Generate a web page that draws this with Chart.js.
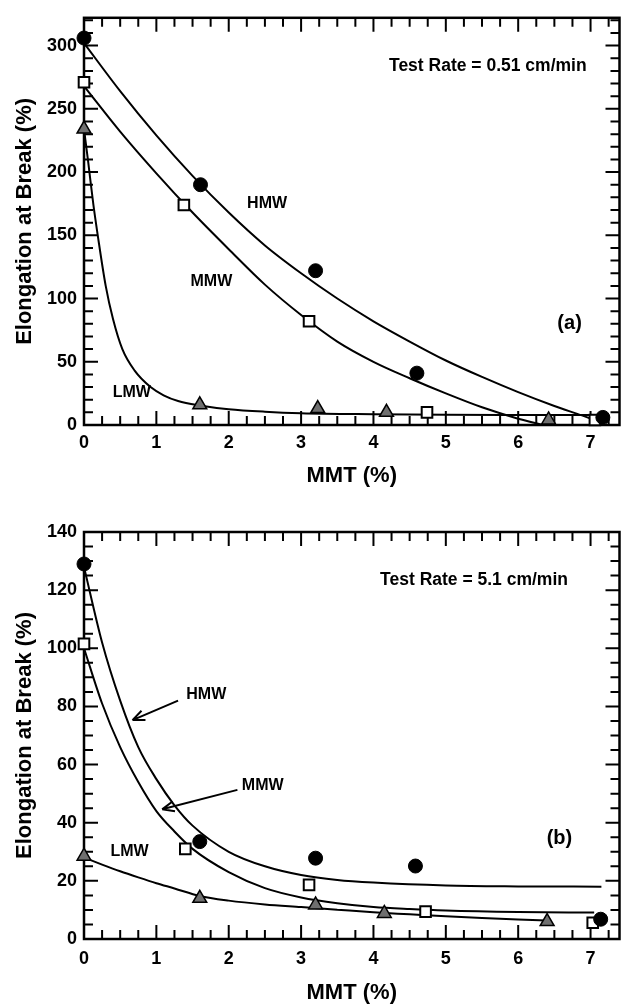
<!DOCTYPE html>
<html>
<head>
<meta charset="utf-8">
<title>Elongation at Break vs MMT</title>
<script src="https://cdn.jsdelivr.net/npm/chart.js@4.4.0/dist/chart.umd.min.js"></script>
<style>
  html, body { margin: 0; padding: 0; background: #fff; overflow: hidden; }
  canvas { display: block; }
</style>
</head>
<body>
<canvas id="chartA" width="629" height="500"></canvas>
<canvas id="chartB" width="629" height="505"></canvas>
<script>
// ---- (a) Test Rate = 0.51 cm/min : measured points ----
const mmtA_hmw = [0, 1.61, 3.2, 4.6, 7.17];
const elongA_hmw = [306, 190, 122, 41, 6];
const mmtA_mmw = [0, 1.38, 3.11, 4.74, 7.06];
const elongA_mmw = [271, 174, 82, 10, 4];
const mmtA_lmw = [0, 1.6, 3.23, 4.18, 6.42];
const elongA_lmw = [234, 16, 13, 10, 4];

// ---- (a) fitted curves ----
const fitA_hmw_x = [0, 0.5, 1, 1.5, 2, 2.5, 3, 3.5, 4, 4.5, 5, 5.5, 6, 6.5, 7, 7.12];
const fitA_hmw_y = [302, 264, 229, 197, 168, 142, 120, 100, 82, 66, 51, 38, 26, 15, 5, 2];
const fitA_mmw_x = [0, 0.5, 1, 1.5, 2, 2.5, 3, 3.5, 4, 4.5, 5, 5.5, 6, 6.35];
const fitA_mmw_y = [268, 232, 199, 168, 139, 111, 87, 66, 50, 37, 25, 14, 5, 0];
const fitA_lmw_x = [0, 0.06, 0.13, 0.19, 0.3, 0.4, 0.53, 0.7, 0.92, 1.1, 1.3, 1.6, 2, 2.5, 3, 4, 5, 6, 7];
const fitA_lmw_y = [234, 207, 174, 150, 110, 84, 60, 43, 30, 23.5, 19, 15.5, 12.5, 10.5, 9.3, 8.5, 8.1, 8, 8];

// ---- (b) Test Rate = 5.1 cm/min : measured points ----
const mmtB_hmw = [0, 1.6, 3.2, 4.58, 7.14];
const elongB_hmw = [129, 33.5, 27.8, 25.1, 6.8];
const mmtB_mmw = [0, 1.4, 3.11, 4.72, 7.03];
const elongB_mmw = [101.5, 31, 18.6, 9.4, 5.6];
const mmtB_lmw = [0, 1.6, 3.2, 4.15, 6.4];
const elongB_lmw = [28.5, 14, 11.7, 8.8, 6];

// ---- (b) fitted curves ----
const fitB_hmw_x = [0, 0.25, 0.5, 0.75, 1, 1.25, 1.5, 2, 2.5, 3, 3.5, 4, 5, 6, 7.15];
const fitB_hmw_y = [128, 102, 82, 66, 55, 46, 39, 30, 25, 22, 20.3, 19.4, 18.4, 18.1, 18];
const fitB_mmw_x = [0, 0.25, 0.5, 0.75, 1, 1.25, 1.5, 2, 2.5, 3, 3.5, 4, 4.5, 5, 6, 7.05];
const fitB_mmw_y = [100, 81, 66, 54, 44, 37, 31, 23, 17.5, 14.3, 12.3, 11, 10.3, 9.8, 9.3, 9.1];
const fitB_lmw_x = [0, 0.25, 0.5, 0.75, 1, 1.25, 1.6, 2, 2.5, 3, 3.5, 4, 4.5, 5, 5.5, 6, 6.45];
const fitB_lmw_y = [28, 25.6, 23.3, 21.2, 19.2, 17.4, 14.8, 13.2, 11.9, 11, 10.1, 9.2, 8.5, 7.8, 7.2, 6.7, 6.3];

const FONT = '"Liberation Sans", Arial, Helvetica, sans-serif';
const tickFont = { family: FONT, size: 18, weight: 'bold' };
const titleFont = { family: FONT, size: 22, weight: 'bold', lineHeight: 1 };

function toPoints(xs, ys) {
    return xs.map((x, i) => ({ x: x, y: ys[i] }));
}

// Inward tick marks on all four sides plus the box frame
const frameTicks = {
    id: 'frameTicks',
    beforeDatasetsDraw(chart, args, opts) {
        const { ctx, chartArea: a, scales: { x, y } } = chart;
        ctx.save();
        ctx.strokeStyle = '#000';
        ctx.lineWidth = 2;
        ctx.beginPath();
        const nx = Math.floor(x.max / opts.xMinor + 1e-6);
        for (let i = 0; i <= nx; i++) {
            const v = i * opts.xMinor;
            const px = x.getPixelForValue(v);
            const len = (i % opts.xEvery === 0) ? 14 : 9;
            ctx.moveTo(px, a.bottom); ctx.lineTo(px, a.bottom - len);
            ctx.moveTo(px, a.top); ctx.lineTo(px, a.top + len);
        }
        const ny = Math.floor(y.max / opts.yMinor + 1e-6);
        for (let i = 0; i <= ny; i++) {
            const v = i * opts.yMinor;
            const py = y.getPixelForValue(v);
            const len = (i % opts.yEvery === 0) ? 14 : 9;
            ctx.moveTo(a.left, py); ctx.lineTo(a.left + len, py);
            ctx.moveTo(a.right, py); ctx.lineTo(a.right - len, py);
        }
        ctx.stroke();
        ctx.lineWidth = 2.5;
        ctx.strokeRect(a.left, a.top, a.right - a.left, a.bottom - a.top);
        ctx.restore();
    }
};

// Curve names, panel letter, test-rate note and arrows
const notes = {
    id: 'notes',
    afterDatasetsDraw(chart, args, opts) {
        const { ctx, scales: { x, y } } = chart;
        ctx.save();
        ctx.fillStyle = '#000';
        ctx.strokeStyle = '#000';
        ctx.textAlign = 'center';
        ctx.textBaseline = 'middle';
        (opts.labels || []).forEach(l => {
            ctx.font = 'bold ' + l.size + 'px ' + FONT;
            ctx.fillText(l.text, x.getPixelForValue(l.x), y.getPixelForValue(l.y));
        });
        ctx.lineWidth = 2;
        (opts.arrows || []).forEach(ar => {
            const x0 = x.getPixelForValue(ar.from[0]), y0 = y.getPixelForValue(ar.from[1]);
            const x1 = x.getPixelForValue(ar.to[0]), y1 = y.getPixelForValue(ar.to[1]);
            const ang = Math.atan2(y1 - y0, x1 - x0);
            ctx.beginPath();
            ctx.moveTo(x0, y0); ctx.lineTo(x1, y1);
            [-0.4, 0.4].forEach(d => {
                ctx.moveTo(x1, y1);
                ctx.lineTo(x1 - 13 * Math.cos(ang + d), y1 - 13 * Math.sin(ang + d));
            });
            ctx.stroke();
        });
        ctx.restore();
    }
};

function makeChart(id, d) {
    const ctx = document.getElementById(id).getContext('2d');
    return new Chart(ctx, {
        type: 'scatter',
        data: {
            datasets: [
                { label: 'HMW', data: toPoints(d.hmw[0], d.hmw[1]), pointStyle: 'circle', pointRadius: 7,
                  backgroundColor: '#000', borderColor: '#000', borderWidth: 1, clip: false, order: 0 },
                { label: 'MMW', data: toPoints(d.mmw[0], d.mmw[1]), pointStyle: 'rect', pointRadius: 7.5,
                  backgroundColor: '#fff', borderColor: '#000', borderWidth: 2, clip: false, order: 0 },
                { label: 'LMW', data: toPoints(d.lmw[0], d.lmw[1]), pointStyle: 'triangle', pointRadius: 8,
                  backgroundColor: '#6f6f6f', borderColor: '#000', borderWidth: 1.5, clip: false, order: 0 },
                { label: 'HMW fit', data: toPoints(d.fitH[0], d.fitH[1]), showLine: true, pointRadius: 0,
                  borderColor: '#000', borderWidth: 2, cubicInterpolationMode: 'monotone', order: 1 },
                { label: 'MMW fit', data: toPoints(d.fitM[0], d.fitM[1]), showLine: true, pointRadius: 0,
                  borderColor: '#000', borderWidth: 2, cubicInterpolationMode: 'monotone', order: 1 },
                { label: 'LMW fit', data: toPoints(d.fitL[0], d.fitL[1]), showLine: true, pointRadius: 0,
                  borderColor: '#000', borderWidth: 2, cubicInterpolationMode: 'monotone', order: 1 }
            ]
        },
        options: {
            responsive: false,
            animation: false,
            events: [],
            layout: { padding: { top: d.top, right: 0, left: 0, bottom: 0 } },
            plugins: {
                legend: { display: false },
                tooltip: { enabled: false },
                frameTicks: d.ticks,
                notes: { labels: d.labels, arrows: d.arrows || [] }
            },
            scales: {
                x: {
                    type: 'linear', min: 0, max: 7.4,
                    grid: { display: false, drawTicks: false }, border: { display: false },
                    ticks: { stepSize: 1, includeBounds: false, autoSkip: false, maxRotation: 0,
                             padding: d.xTickPad, color: '#000', font: tickFont },
                    title: { display: true, text: 'MMT (%)', color: '#000', font: titleFont,
                             padding: { top: 0, bottom: d.xTitlePad } },
                    afterFit(scale) { scale.height = d.xHeight; }
                },
                y: {
                    type: 'linear', min: 0, max: d.yMax,
                    grid: { display: false, drawTicks: false }, border: { display: false },
                    ticks: { stepSize: d.yStep, includeBounds: false, autoSkip: false,
                             padding: 7, color: '#000', font: tickFont },
                    title: { display: true, text: 'Elongation at Break (%)', color: '#000', font: titleFont,
                             padding: { top: 14, bottom: 0 } },
                    afterFit(scale) { scale.width = 84; }
                }
            }
        },
        plugins: [frameTicks, notes]
    });
}

makeChart('chartA', {
    hmw: [mmtA_hmw, elongA_hmw], mmw: [mmtA_mmw, elongA_mmw], lmw: [mmtA_lmw, elongA_lmw],
    fitH: [fitA_hmw_x, fitA_hmw_y], fitM: [fitA_mmw_x, fitA_mmw_y], fitL: [fitA_lmw_x, fitA_lmw_y],
    top: 14, xHeight: 75, xTickPad: 7, xTitlePad: 13, yMax: 322, yStep: 50,
    ticks: { xMinor: 0.25, xEvery: 4, yMinor: 10, yEvery: 5 },
    labels: [
        { text: 'HMW', x: 2.53, y: 175, size: 16 },
        { text: 'MMW', x: 1.76, y: 113.6, size: 16 },
        { text: 'LMW', x: 0.66, y: 26, size: 16 },
        { text: '(a)', x: 6.71, y: 80, size: 20 },
        { text: 'Test Rate = 0.51 cm/min', x: 5.58, y: 284, size: 17.5 }
    ]
});

makeChart('chartB', {
    hmw: [mmtB_hmw, elongB_hmw], mmw: [mmtB_mmw, elongB_mmw], lmw: [mmtB_lmw, elongB_lmw],
    fitH: [fitB_hmw_x, fitB_hmw_y], fitM: [fitB_mmw_x, fitB_mmw_y], fitL: [fitB_lmw_x, fitB_lmw_y],
    top: 32, xHeight: 66, xTickPad: 9, xTitlePad: 1, yMax: 140, yStep: 20,
    ticks: { xMinor: 0.25, xEvery: 4, yMinor: 5, yEvery: 4 },
    labels: [
        { text: 'HMW', x: 1.69, y: 83.9, size: 16 },
        { text: 'MMW', x: 2.47, y: 52.6, size: 16 },
        { text: 'LMW', x: 0.63, y: 30, size: 16 },
        { text: '(b)', x: 6.57, y: 34.7, size: 20 },
        { text: 'Test Rate = 5.1 cm/min', x: 5.39, y: 123.5, size: 17.5 }
    ],
    arrows: [
        { from: [1.30, 82], to: [0.67, 75.3] },
        { from: [2.12, 51.3], to: [1.08, 44.6] }
    ]
});
</script>
</body>
</html>
